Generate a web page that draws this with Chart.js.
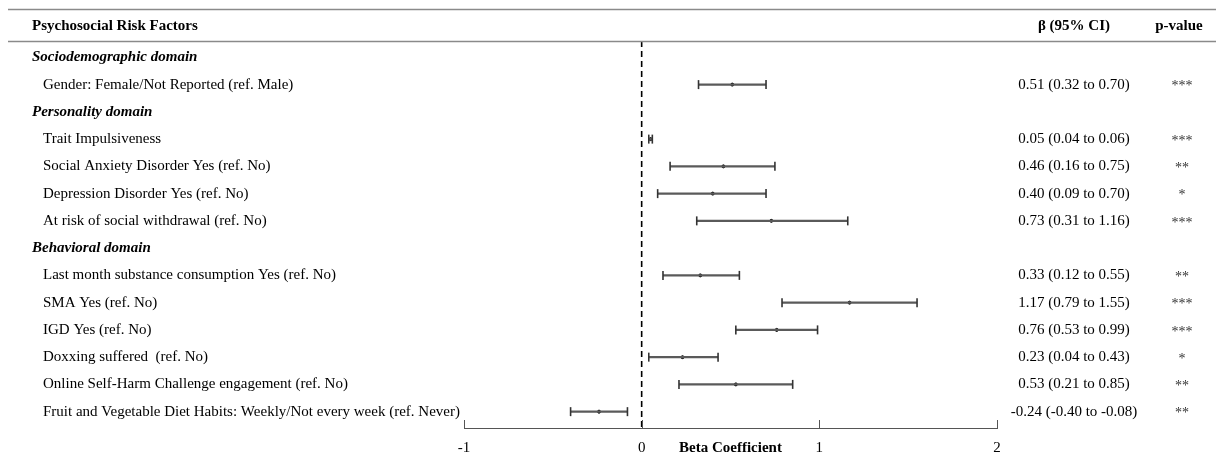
<!DOCTYPE html>
<html>
<head>
<meta charset="utf-8">
<script src="https://cdn.jsdelivr.net/npm/chart.js@4"></script>
<style>
  body { margin: 0; background: #fff; }
  canvas { display: block; }
</style>
</head>
<body>
<canvas id="forest" width="1216" height="461"></canvas>
<script>
// rows of the forest plot, top to bottom (null = domain heading)
const rowLabels = [
  'Sociodemographic domain',
  'Gender: Female/Not Reported (ref. Male)',
  'Personality domain',
  'Trait Impulsiveness',
  'Social Anxiety Disorder Yes (ref. No)',
  'Depression Disorder Yes (ref. No)',
  'At risk of social withdrawal (ref. No)',
  'Behavioral domain',
  'Last month substance consumption Yes (ref. No)',
  'SMA Yes (ref. No)',
  'IGD Yes (ref. No)',
  'Doxxing suffered  (ref. No)',
  'Online Self-Harm Challenge engagement (ref. No)',
  'Fruit and Vegetable Diet Habits: Weekly/Not every week (ref. Never)'
];
const isDomain = [true, false, true, false, false, false, false, true, false, false, false, false, false, false];
const beta  = [null, 0.51, null, 0.05, 0.46, 0.40, 0.73, null, 0.33, 1.17, 0.76, 0.23, 0.53, -0.24];
const lower = [null, 0.32, null, 0.04, 0.16, 0.09, 0.31, null, 0.12, 0.79, 0.53, 0.04, 0.21, -0.40];
const upper = [null, 0.70, null, 0.06, 0.75, 0.70, 1.16, null, 0.55, 1.55, 0.99, 0.43, 0.85, -0.08];
const ciText = [null, '0.51 (0.32 to 0.70)', null, '0.05 (0.04 to 0.06)', '0.46 (0.16 to 0.75)',
  '0.40 (0.09 to 0.70)', '0.73 (0.31 to 1.16)', null, '0.33 (0.12 to 0.55)', '1.17 (0.79 to 1.55)',
  '0.76 (0.53 to 0.99)', '0.23 (0.04 to 0.43)', '0.53 (0.21 to 0.85)', '-0.24 (-0.40 to -0.08)'];
const pStars = [null, '***', null, '***', '**', '*', '***', null, '**', '***', '***', '*', '**', '**'];
const xTicks = [-1, 0, 1, 2];

const FONT = "'Liberation Serif', 'Times New Roman', serif";

// one line dataset per CI, caps drawn as rotated line points
const ciSets = [];
for (let i = 0; i < rowLabels.length; i++) {
  if (beta[i] === null) continue;
  ciSets.push({
    type: 'line',
    data: [{x: lower[i], y: i}, {x: upper[i], y: i}],
    borderColor: '#5a5a5a',
    borderWidth: 2.2,
    pointStyle: 'line',
    rotation: 90,
    pointRadius: 4.5,
    pointBorderWidth: 1.6,
    pointBorderColor: '#333',
    pointHoverRadius: 4.5
  });
}

const tablePlugin = {
  id: 'table',
  afterDraw(chart) {
    const ctx = chart.ctx;
    const x = chart.scales.x;
    const y = chart.scales.y;
    ctx.save();

    // rules across the top
    ctx.strokeStyle = '#8a8a8a';
    ctx.lineWidth = 1.5;
    ctx.beginPath();
    ctx.moveTo(8, 9.5); ctx.lineTo(1216, 9.5);
    ctx.moveTo(8, 41.5); ctx.lineTo(1216, 41.5);
    ctx.stroke();

    // header
    ctx.fillStyle = '#000';
    ctx.textBaseline = 'middle';
    ctx.font = 'bold 15px ' + FONT;
    ctx.textAlign = 'left';
    ctx.fillText('Psychosocial Risk Factors', 32, 26);
    ctx.textAlign = 'center';
    ctx.fillText('β (95% CI)', 1074, 26);
    ctx.fillText('p-value', 1179, 26);

    // rows
    for (let i = 0; i < rowLabels.length; i++) {
      const py = y.getPixelForValue(i);
      ctx.textAlign = 'left';
      if (isDomain[i]) {
        ctx.font = 'italic bold 15px ' + FONT;
        ctx.fillText(rowLabels[i], 32, py);
      } else {
        ctx.font = '15px ' + FONT;
        ctx.fillText(rowLabels[i], 43, py);
      }
      if (ciText[i]) {
        ctx.font = '15px ' + FONT;
        ctx.textAlign = 'center';
        ctx.fillText(ciText[i], 1074, py);
        ctx.fillStyle = '#333';
        ctx.font = '14px ' + FONT;
        ctx.fillText(pStars[i], 1182, py + 2);
        ctx.fillStyle = '#000';
      }
    }

    // upward tick marks on the x axis
    ctx.strokeStyle = '#555';
    ctx.lineWidth = 1;
    ctx.beginPath();
    xTicks.forEach(v => {
      const px = Math.round(x.getPixelForValue(v)) + 0.5;
      ctx.moveTo(px, x.top); ctx.lineTo(px, x.top - 8);
    });
    ctx.stroke();

    // axis title on the tick-label line
    ctx.font = 'bold 15px ' + FONT;
    ctx.textAlign = 'center';
    ctx.fillText('Beta Coefficient', (x.left + x.right) / 2, 448);
    ctx.restore();
  }
};

new Chart(document.getElementById('forest'), {
  type: 'scatter',
  data: {
    datasets: [
      {
        // reference line at zero
        type: 'line',
        data: [{x: 0, y: -0.6}, {x: 0, y: 13.6}],
        borderColor: '#000',
        borderWidth: 1.6,
        borderDash: [6, 4],
        pointRadius: 0
      },
      ...ciSets,
      {
        data: beta.map((b, i) => b === null ? null : {x: b, y: i}).filter(d => d),
        backgroundColor: '#000',
        borderColor: '#000',
        pointRadius: 1.5
      }
    ]
  },
  options: {
    responsive: false,
    animation: false,
    events: [],
    layout: {
      padding: {left: 464, right: 219, top: 41, bottom: 0}
    },
    plugins: {
      legend: {display: false},
      tooltip: {enabled: false}
    },
    scales: {
      x: {
        type: 'linear',
        min: -1,
        max: 2,
        afterBuildTicks: axis => { axis.ticks = xTicks.map(v => ({value: v})); },
        afterFit: axis => { axis.height = 33; },
        grid: {display: false, drawTicks: false},
        border: {display: true, color: '#555', width: 1},
        ticks: {
          color: '#000',
          padding: 11,
          font: {family: FONT, size: 15}
        }
      },
      y: {
        type: 'linear',
        reverse: true,
        min: -0.6,
        max: 13.6,
        display: false
      }
    }
  },
  plugins: [tablePlugin]
});
</script>
</body>
</html>
